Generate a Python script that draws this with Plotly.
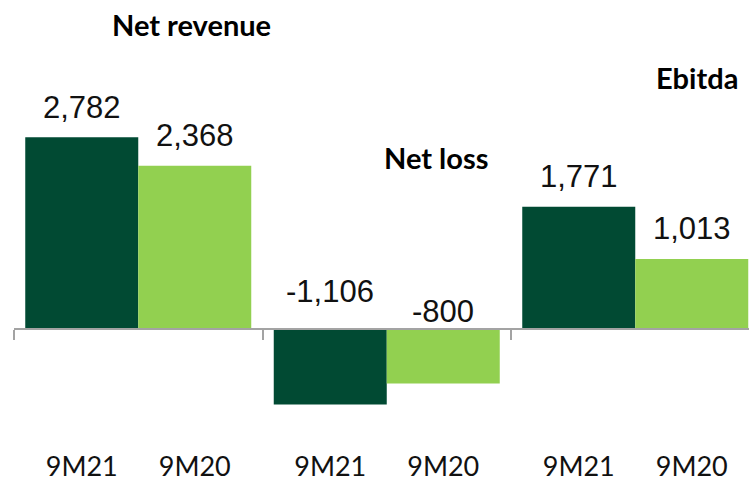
import plotly.graph_objects as go

# Metrics and periods
groups = ["Net revenue", "Net loss", "Ebitda"]
periods = ["9M21", "9M20"]
values_9m21 = [2782, -1106, 1771]
values_9m20 = [2368, -800, 1013]

DARK = "#014A33"
LIGHT = "#92D050"
AXIS_GREY = "#A3A3A3"

W, H = 749, 482
M_L, M_R, M_T, M_B = 14, 0, 0, 32
ZERO_PX = 330            # pixel row of the zero line
PX_PER_UNIT = 0.06902    # vertical scale (pixels per value unit)
GROUP_PX = 248.5         # horizontal size of one metric group

plot_h = H - M_T - M_B
plot_w = W - M_L - M_R
y_max = (ZERO_PX - M_T) / PX_PER_UNIT
y_min = -(H - M_B - ZERO_PX) / PX_PER_UNIT
x_min = -0.5
x_max = x_min + plot_w / GROUP_PX
bar_w = 113 / GROUP_PX

idx = list(range(len(groups)))
x_21 = [i - bar_w / 2 for i in idx]
x_20 = [i + bar_w / 2 for i in idx]

fig = go.Figure()
fig.add_trace(go.Bar(x=x_21, y=values_9m21, width=bar_w, marker_color=DARK,
                     marker_line_width=0, name=periods[0]))
fig.add_trace(go.Bar(x=x_20, y=values_9m20, width=bar_w, marker_color=LIGHT,
                     marker_line_width=0, name=periods[1]))

# Value labels above each bar (negative bars labelled above the zero line)
neg_shift = {-1106: 37, -800: 17}
for xs, vals in ((x_21, values_9m21), (x_20, values_9m20)):
    for x, v in zip(xs, vals):
        fig.add_annotation(
            x=x, y=max(v, 0), xref="x", yref="y",
            text=f"{v:,}", showarrow=False, yanchor="middle",
            yshift=30 if v >= 0 else neg_shift.get(v, 27),
            font=dict(family="Liberation Sans", size=31, color="#111111"),
        )

# Metric titles
title_pos = [(0.216, 4419), (1.198, 2492), (2.248, 3651)]
for name, (tx, ty) in zip(groups, title_pos):
    fig.add_annotation(
        x=tx, y=ty, xref="x", yref="y", text=f"<b>{name}</b>",
        showarrow=False, xanchor="center", yanchor="middle",
        font=dict(family="Lato", size=29, color="#000000"),
    )

zero_frac = (0 - y_min) / (y_max - y_min)

fig.update_layout(
    width=W, height=H,
    margin=dict(l=M_L, r=M_R, t=M_T, b=M_B),
    paper_bgcolor="white", plot_bgcolor="white",
    showlegend=False, barmode="overlay",
    xaxis=dict(
        range=[x_min, x_max], showgrid=False, zeroline=False, showline=False,
        tickmode="array", tickvals=x_21 + x_20,
        ticktext=[periods[0]] * 3 + [periods[1]] * 3,
        ticks="", tickfont=dict(family="Lato", size=27, color="#111111"),
    ),
    xaxis2=dict(
        overlaying="x", anchor="free", position=zero_frac, side="bottom",
        range=[x_min, x_max], showgrid=False, zeroline=False,
        showline=True, linecolor=AXIS_GREY, linewidth=2,
        tickmode="array", tickvals=[-0.5, 0.5, 1.5], showticklabels=False,
        ticks="outside", ticklen=10, tickwidth=2, tickcolor=AXIS_GREY,
    ),
    yaxis=dict(range=[y_min, y_max], visible=False),
)
# A hidden trace keeps the zero-line axis drawn
fig.add_trace(go.Scatter(x=[x_min], y=[0], xaxis="x2", mode="markers",
                         marker=dict(opacity=0), hoverinfo="skip"))

fig.write_html("out.html")
